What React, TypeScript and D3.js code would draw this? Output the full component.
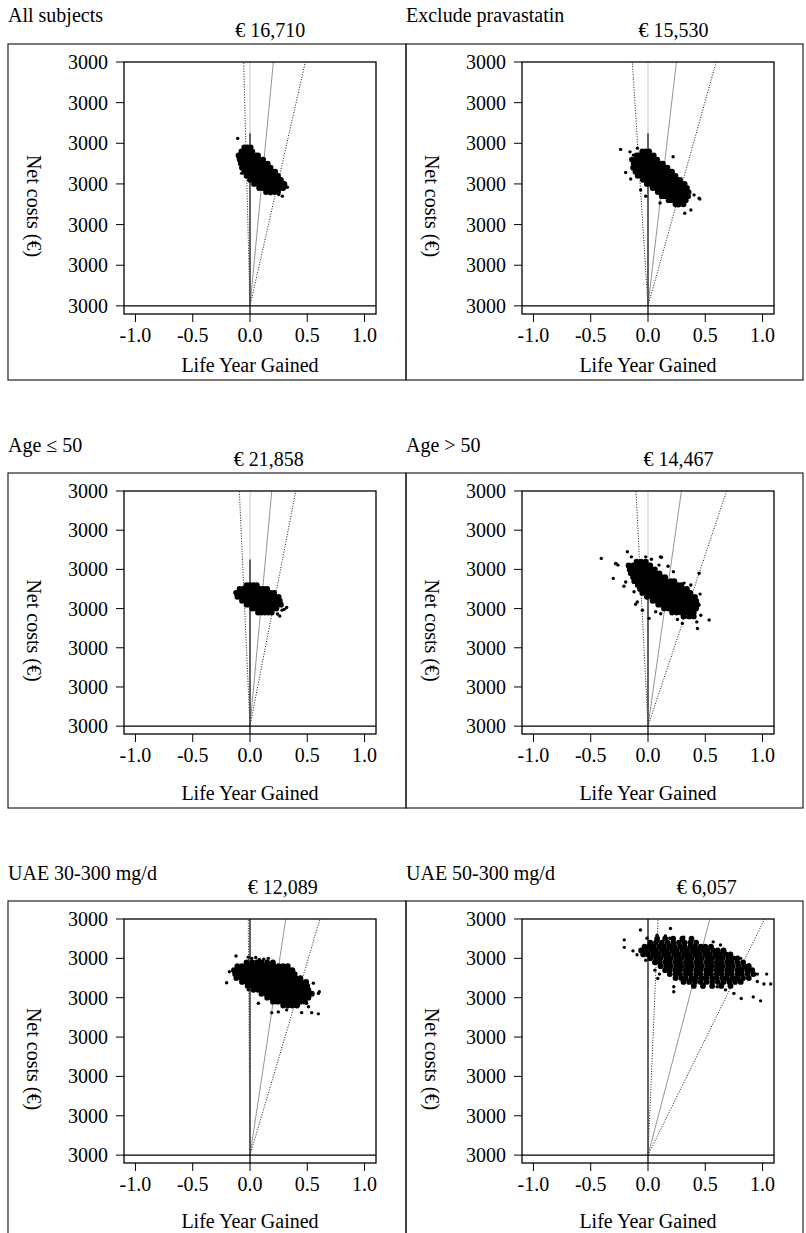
import React from 'react';
import * as d3 from 'd3';

const FONT = '"Liberation Serif", "Times New Roman", serif';

const panelTitles = ["All subjects", "Exclude pravastatin", "Age \u2264 50", "Age > 50", "UAE 30-300 mg/d", "UAE 50-300 mg/d"];
const icerValues = [16710, 15530, 21858, 14467, 12089, 6057];
// x where each line from the origin meets the top of the plot (y = 6)
const icerTopX = [0.204, 0.248, 0.19, 0.292, 0.312, 0.54];
const lowerTopX = [-0.055, -0.137, -0.093, -0.105, -0.015, 0.088];
const upperTopX = [0.483, 0.595, 0.4, 0.686, 0.611, 1.018];
const axisLineTop = [4.25, 4.25, 4.25, 4.2, 6, 6];

const xTicks = [-1, -0.5, 0, 0.5, 1];
const xTickLabels = ["-1.0", "-0.5", "0.0", "0.5", "1.0"];
const yTicks = [0, 1, 2, 3, 4, 5, 6];
const yTickLabels = ["3000", "3000", "3000", "3000", "3000", "3000", "3000"];

// bootstrap clouds, one row per net-cost level: [y, x, x, ...]
const cloudAll = [
  [3.9, -0.05, -0.02, 0.005],
  [3.8, -0.075, -0.045, -0.015, 0.02],
  [3.7, -0.1, -0.07, -0.04, -0.01, 0.02, 0.05, 0.07],
  [3.6, -0.09, -0.06, -0.03, 0.0, 0.035, 0.06, 0.09, 0.115],
  [3.5, -0.08, -0.05, -0.02, 0.015, 0.04, 0.07, 0.1, 0.13, 0.155],
  [3.4, -0.07, -0.035, -0.005, 0.025, 0.055, 0.085, 0.115, 0.145, 0.18],
  [3.3, -0.05, -0.02, 0.01, 0.04, 0.07, 0.1, 0.13, 0.16, 0.19, 0.22],
  [3.2, -0.03, 0.0, 0.035, 0.065, 0.095, 0.125, 0.155, 0.185, 0.215, 0.245],
  [3.1, 0.0, 0.03, 0.06, 0.09, 0.12, 0.15, 0.18, 0.21, 0.24, 0.27],
  [3.0, 0.035, 0.065, 0.095, 0.125, 0.155, 0.185, 0.215, 0.245, 0.275, 0.3],
  [2.9, 0.08, 0.11, 0.14, 0.17, 0.2, 0.23, 0.26, 0.29],
  [2.8, 0.14, 0.175, 0.21, 0.245],
];
const strayAll = [[-0.107, 4.12], [-0.1, 3.63], [-0.073, 3.26], [0.18, 2.76], [0.282, 2.7], [0.326, 2.92], [0.31, 2.98], [0.25, 2.74]];

const cloudNoPrava = [
  [3.8, -0.05, -0.02, 0.01],
  [3.7, -0.1, -0.07, -0.04, -0.01, 0.02, 0.05],
  [3.6, -0.14, -0.1, -0.07, -0.04, -0.01, 0.02, 0.05, 0.08],
  [3.5, -0.125, -0.095, -0.065, -0.035, -0.005, 0.025, 0.055, 0.085, 0.11, 0.13],
  [3.4, -0.13, -0.1, -0.07, -0.04, -0.01, 0.02, 0.05, 0.08, 0.11, 0.14, 0.17],
  [3.3, -0.11, -0.08, -0.05, -0.02, 0.01, 0.04, 0.07, 0.1, 0.13, 0.16, 0.19, 0.21],
  [3.2, -0.09, -0.06, -0.03, 0.0, 0.03, 0.06, 0.09, 0.12, 0.15, 0.18, 0.21, 0.24],
  [3.1, -0.045, -0.015, 0.015, 0.045, 0.075, 0.105, 0.135, 0.165, 0.195, 0.225, 0.255, 0.28],
  [3.0, -0.01, 0.02, 0.05, 0.08, 0.11, 0.14, 0.17, 0.2, 0.23, 0.26, 0.29, 0.32],
  [2.9, 0.04, 0.07, 0.1, 0.13, 0.16, 0.19, 0.22, 0.25, 0.28, 0.31, 0.34],
  [2.8, 0.085, 0.115, 0.145, 0.175, 0.205, 0.235, 0.265, 0.295, 0.325, 0.355],
  [2.7, 0.12, 0.15, 0.18, 0.21, 0.24, 0.27, 0.3, 0.33, 0.35],
  [2.6, 0.18, 0.21, 0.24, 0.27, 0.3, 0.33],
  [2.5, 0.24, 0.27, 0.31],
];
const strayNoPrava = [[-0.239, 3.85], [-0.195, 3.28], [-0.157, 3.79], [-0.128, 3.71], [-0.151, 3.12], [-0.093, 3.88], [-0.064, 2.85], [-0.02, 2.7], [0.105, 2.53], [0.262, 2.46], [0.374, 2.36], [0.321, 2.28], [0.402, 2.73], [0.446, 2.65], [0.219, 3.67], [0.452, 2.63]];

const cloudAgeLow = [
  [3.6, -0.03, 0.0, 0.03, 0.06],
  [3.5, -0.09, -0.06, -0.03, 0.0, 0.03, 0.06, 0.09, 0.12, 0.15],
  [3.4, -0.12, -0.09, -0.06, -0.03, 0.0, 0.03, 0.06, 0.09, 0.12, 0.15, 0.18, 0.21],
  [3.3, -0.11, -0.08, -0.05, -0.02, 0.01, 0.04, 0.07, 0.1, 0.13, 0.16, 0.19, 0.22, 0.25],
  [3.2, -0.07, -0.04, -0.01, 0.02, 0.05, 0.08, 0.11, 0.14, 0.17, 0.2, 0.23, 0.26],
  [3.1, -0.03, 0.0, 0.03, 0.06, 0.09, 0.12, 0.15, 0.18, 0.21, 0.24, 0.27],
  [3.0, 0.02, 0.05, 0.08, 0.11, 0.14, 0.17, 0.2, 0.23],
  [2.9, 0.07, 0.1, 0.13, 0.16, 0.19],
];
const strayAgeLow = [[-0.13, 3.42], [0.28, 2.96], [0.32, 3.03], [0.26, 2.81], [0.3, 2.98], [0.24, 2.86], [-0.1, 3.52]];

const cloudAgeHigh = [
  [4.2, -0.1, -0.06, -0.02],
  [4.1, -0.17, -0.13, -0.09, -0.05, -0.01, 0.02],
  [4.0, -0.16, -0.12, -0.08, -0.05, -0.01, 0.03, 0.06],
  [3.9, -0.15, -0.11, -0.08, -0.04, 0.0, 0.03, 0.07, 0.1],
  [3.8, -0.13, -0.1, -0.06, -0.02, 0.01, 0.05, 0.08, 0.12, 0.15],
  [3.7, -0.12, -0.08, -0.05, -0.01, 0.02, 0.06, 0.09, 0.13, 0.16, 0.2, 0.23],
  [3.6, -0.09, -0.06, -0.02, 0.01, 0.05, 0.08, 0.12, 0.15, 0.19, 0.22, 0.26, 0.29],
  [3.5, -0.07, -0.04, 0.0, 0.03, 0.07, 0.1, 0.14, 0.17, 0.21, 0.24, 0.28, 0.31, 0.34],
  [3.4, -0.05, -0.01, 0.02, 0.06, 0.09, 0.13, 0.16, 0.2, 0.23, 0.27, 0.3, 0.34, 0.37],
  [3.3, -0.01, 0.03, 0.06, 0.1, 0.13, 0.17, 0.2, 0.24, 0.27, 0.31, 0.34, 0.38, 0.41],
  [3.2, 0.04, 0.07, 0.11, 0.14, 0.18, 0.21, 0.25, 0.28, 0.32, 0.35, 0.39, 0.42],
  [3.1, 0.09, 0.12, 0.16, 0.19, 0.23, 0.26, 0.3, 0.33, 0.37, 0.4, 0.43],
  [3.0, 0.14, 0.18, 0.21, 0.25, 0.28, 0.32, 0.35, 0.39, 0.42],
  [2.9, 0.21, 0.25, 0.29, 0.33, 0.37, 0.4],
  [2.8, 0.31, 0.36, 0.4],
];
const strayAgeHigh = [
  [-0.408, 4.28], [-0.303, 3.77], [-0.283, 4.15], [-0.262, 4.11], [-0.276, 4.14], [-0.18, 4.45], [-0.145, 4.32],
  [-0.21, 3.57], [-0.195, 3.68], [-0.122, 3.43], [-0.093, 3.17], [-0.108, 3.11], [-0.049, 2.96], [-0.02, 4.32],
  [0.03, 4.26], [0.117, 4.31], [0.108, 4.32], [0.096, 4.11], [0.175, 4.08], [0.222, 3.94], [0.315, 3.65], [0.374, 3.6],
  [0.446, 3.9], [0.455, 3.37], [0.446, 3.09], [0.461, 2.83], [0.534, 2.71], [0.432, 2.49], [0.426, 2.66], [0.257, 2.72],
  [0.3, 2.62], [0.067, 2.92], [0.009, 2.75], [0.111, 2.87], [0.345, 2.78], [0.388, 2.79], [0.359, 2.96], [0.4, 3.0],
];

const cloudUae30 = [
  [4.9, -0.03, 0.02, 0.06, 0.1, 0.15, 0.2],
  [4.8, -0.11, -0.07, -0.03, 0.01, 0.05, 0.09, 0.13, 0.17, 0.21, 0.25, 0.29, 0.33],
  [4.7, -0.14, -0.1, -0.06, -0.02, 0.02, 0.06, 0.1, 0.14, 0.18, 0.22, 0.26, 0.3, 0.34, 0.37],
  [4.6, -0.13, -0.09, -0.05, -0.01, 0.03, 0.07, 0.11, 0.15, 0.19, 0.23, 0.27, 0.31, 0.35, 0.39],
  [4.5, -0.12, -0.08, -0.04, 0.0, 0.04, 0.08, 0.12, 0.16, 0.2, 0.24, 0.28, 0.32, 0.36, 0.4, 0.44],
  [4.4, -0.07, -0.03, 0.01, 0.05, 0.09, 0.13, 0.17, 0.21, 0.25, 0.29, 0.33, 0.37, 0.41, 0.45, 0.49],
  [4.3, -0.02, 0.02, 0.06, 0.1, 0.14, 0.18, 0.22, 0.26, 0.3, 0.34, 0.38, 0.42, 0.46, 0.5],
  [4.2, 0.03, 0.07, 0.11, 0.15, 0.19, 0.23, 0.27, 0.31, 0.35, 0.39, 0.43, 0.47, 0.51],
  [4.1, 0.1, 0.14, 0.18, 0.22, 0.26, 0.3, 0.34, 0.38, 0.42, 0.46, 0.5, 0.54],
  [4.0, 0.15, 0.19, 0.23, 0.27, 0.31, 0.35, 0.39, 0.43, 0.47, 0.51],
  [3.9, 0.2, 0.24, 0.28, 0.32, 0.36, 0.4, 0.44, 0.48],
  [3.8, 0.29, 0.33, 0.37, 0.41],
];
const strayUae30 = [
  [-0.122, 5.06], [-0.204, 4.38], [-0.18, 4.66], [-0.015, 5.03], [0.015, 5.0], [0.05, 5.02], [0.081, 4.97], [0.12, 4.98],
  [0.16, 5.0], [-0.015, 4.2], [0.073, 3.86], [0.19, 3.62], [0.247, 3.64], [0.451, 3.62], [0.539, 3.62], [0.597, 3.59],
  [0.605, 4.15], [0.597, 4.11], [0.553, 4.37], [0.495, 3.86], [0.51, 3.77], [0.422, 3.81], [0.32, 3.69],
];

const cloudUae50 = [
  [5.5, 0.08, 0.15, 0.22, 0.3, 0.38],
  [5.4, 0.02, 0.07, 0.12, 0.17, 0.22, 0.27, 0.32, 0.37, 0.42],
  [5.3, -0.03, 0.01, 0.05, 0.1, 0.14, 0.19, 0.23, 0.28, 0.32, 0.37, 0.41, 0.46, 0.5, 0.55],
  [5.2, -0.06, -0.02, 0.03, 0.07, 0.12, 0.16, 0.21, 0.25, 0.3, 0.34, 0.39, 0.43, 0.48, 0.52, 0.57, 0.61, 0.66],
  [5.1, -0.04, 0.0, 0.05, 0.09, 0.14, 0.18, 0.23, 0.27, 0.32, 0.36, 0.41, 0.45, 0.5, 0.54, 0.59, 0.63, 0.68, 0.72],
  [5.0, 0.02, 0.07, 0.11, 0.16, 0.2, 0.25, 0.29, 0.34, 0.38, 0.43, 0.47, 0.52, 0.56, 0.61, 0.65, 0.7, 0.74, 0.78],
  [4.9, 0.06, 0.1, 0.15, 0.19, 0.24, 0.28, 0.33, 0.37, 0.42, 0.46, 0.51, 0.55, 0.6, 0.64, 0.69, 0.73, 0.78, 0.83],
  [4.8, 0.11, 0.16, 0.2, 0.25, 0.29, 0.34, 0.38, 0.43, 0.47, 0.52, 0.56, 0.61, 0.65, 0.7, 0.74, 0.79, 0.84, 0.88],
  [4.7, 0.15, 0.19, 0.24, 0.28, 0.33, 0.37, 0.42, 0.46, 0.51, 0.55, 0.6, 0.64, 0.69, 0.73, 0.78, 0.82, 0.87, 0.91],
  [4.6, 0.19, 0.24, 0.28, 0.33, 0.37, 0.42, 0.46, 0.51, 0.55, 0.6, 0.64, 0.69, 0.73, 0.78, 0.82, 0.87, 0.92],
  [4.5, 0.24, 0.29, 0.33, 0.38, 0.42, 0.47, 0.51, 0.56, 0.6, 0.65, 0.69, 0.74, 0.78, 0.83, 0.88],
  [4.4, 0.31, 0.36, 0.41, 0.46, 0.51, 0.56, 0.61, 0.66, 0.71, 0.76, 0.81],
  [4.3, 0.4, 0.48, 0.56, 0.64, 0.72],
];
const strayUae50 = [
  [-0.207, 5.47], [-0.207, 5.28], [-0.066, 5.72], [-0.131, 5.19], [-0.096, 5.09], [-0.052, 5.09], [-0.009, 5.51],
  [0.006, 5.3], [0.079, 5.59], [0.152, 5.57], [0.196, 5.76], [0.19, 5.51], [0.085, 4.49], [0.225, 4.15], [0.225, 4.28],
  [0.312, 5.54], [0.569, 5.42], [0.633, 5.34], [0.75, 4.11], [0.814, 3.98], [0.919, 4.02], [0.983, 3.92], [1.036, 4.6],
  [1.071, 4.35], [1.012, 4.35], [0.954, 4.41], [0.954, 4.6], [0.881, 4.83], [0.808, 5.0], [0.604, 4.28], [0.677, 4.2],
  [0.487, 4.28], [-0.02, 4.95], [0.06, 4.7], [0.1, 4.6],
];

const clouds = [cloudAll, cloudNoPrava, cloudAgeLow, cloudAgeHigh, cloudUae30, cloudUae50];
const strays = [strayAll, strayNoPrava, strayAgeLow, strayAgeHigh, strayUae30, strayUae50];

// page layout per row of panels
const rows = [
  { titleY: 22, icerY: 37, frameTop: 44, plotTop: 62, plotBottom: 314, xTitleY: 371.5, frameBottom: 380 },
  { titleY: 451.5, icerY: 465.5, frameTop: 473, plotTop: 491, plotBottom: 734, xTitleY: 800, frameBottom: 808 },
  { titleY: 880, icerY: 893.5, frameTop: 901, plotTop: 919, plotBottom: 1163, xTitleY: 1227.5, frameBottom: 1250 },
];
const colLeft = [8, 406];
const colRight = [406, 803];
const plotOffset = 116;
const plotWidth = 252;

const fmt = d3.format(",");

function Panel({ idx }: { idx: number }) {
  const row = rows[Math.floor(idx / 2)];
  const col = idx % 2;
  const left = colLeft[col] + plotOffset;
  const x = d3.scaleLinear().domain([-1.1, 1.1]).range([left, left + plotWidth]);
  const y = d3.scaleLinear().domain([-0.2, 6]).range([row.plotBottom, row.plotTop]);

  const core: number[][] = clouds[idx].flatMap(([yy, ...xs]) => xs.map((xx) => [xx, yy]));
  const midY = (row.plotTop + row.plotBottom) / 2 + 18;

  return (
    <g>
      <rect
        x={colLeft[col]} y={row.frameTop}
        width={colRight[col] - colLeft[col]} height={row.frameBottom - row.frameTop}
        fill="none" stroke="#222" strokeWidth={1.2}
      />
      <text x={colLeft[col]} y={row.titleY}>{panelTitles[idx]}</text>
      <text x={x(icerTopX[idx]) - 3} y={row.icerY} textAnchor="middle">
        {"\u20ac " + fmt(icerValues[idx])}
      </text>

      <line x1={x(0)} x2={x(0)} y1={y(-0.2)} y2={y(6)} stroke="#c4c4c4" strokeWidth={1} />
      <line x1={x(0)} y1={y(0)} x2={x(icerTopX[idx])} y2={y(6)} stroke="#888" strokeWidth={0.9} />
      <line x1={x(0)} y1={y(0)} x2={x(lowerTopX[idx])} y2={y(6)} stroke="#000" strokeWidth={0.9} strokeDasharray="1,1.6" />
      <line x1={x(0)} y1={y(0)} x2={x(upperTopX[idx])} y2={y(6)} stroke="#000" strokeWidth={0.9} strokeDasharray="1,1.6" />
      <line x1={x(0)} x2={x(0)} y1={y(-0.2)} y2={y(axisLineTop[idx])} stroke="#444" strokeWidth={1.6} />
      <line x1={x(-1.1)} x2={x(1.1)} y1={y(0)} y2={y(0)} stroke="#000" strokeWidth={1.4} />

      {core.map((p, i) => (
        <circle key={"c" + i} cx={x(p[0])} cy={y(p[1])} r={2.9} fill="#000" />
      ))}
      {strays[idx].map((p, i) => (
        <circle key={"s" + i} cx={x(p[0])} cy={y(p[1])} r={1.7} fill="#000" />
      ))}

      <rect
        x={left} y={row.plotTop} width={plotWidth} height={row.plotBottom - row.plotTop}
        fill="none" stroke="#000" strokeWidth={1.3}
      />

      {xTicks.map((t, i) => (
        <g key={"x" + i}>
          <line x1={x(t)} x2={x(t)} y1={row.plotBottom} y2={row.plotBottom + 8} stroke="#000" />
          <text x={x(t)} y={row.plotBottom + 27.5} textAnchor="middle">{xTickLabels[i]}</text>
        </g>
      ))}
      {yTicks.map((t, i) => (
        <g key={"y" + i}>
          <line x1={left - 8} x2={left} y1={y(t)} y2={y(t)} stroke="#000" />
          <text x={left - 16} y={y(t) + 7} textAnchor="end">{yTickLabels[i]}</text>
        </g>
      ))}

      <text x={x(0)} y={row.xTitleY} textAnchor="middle">Life Year Gained</text>
      <text transform={`translate(${colLeft[col] + 19},${midY}) rotate(90)`} textAnchor="middle">
        {"Net costs (\u20ac)"}
      </text>
    </g>
  );
}

export default function App() {
  return (
    <svg
      width={806}
      height={1233}
      style={{ position: 'absolute', left: 0, top: 0, background: '#fff' }}
      fontFamily={FONT}
      fontSize={20}
      fill="#000"
    >
      {panelTitles.map((_, i) => (
        <Panel key={i} idx={i} />
      ))}
    </svg>
  );
}
